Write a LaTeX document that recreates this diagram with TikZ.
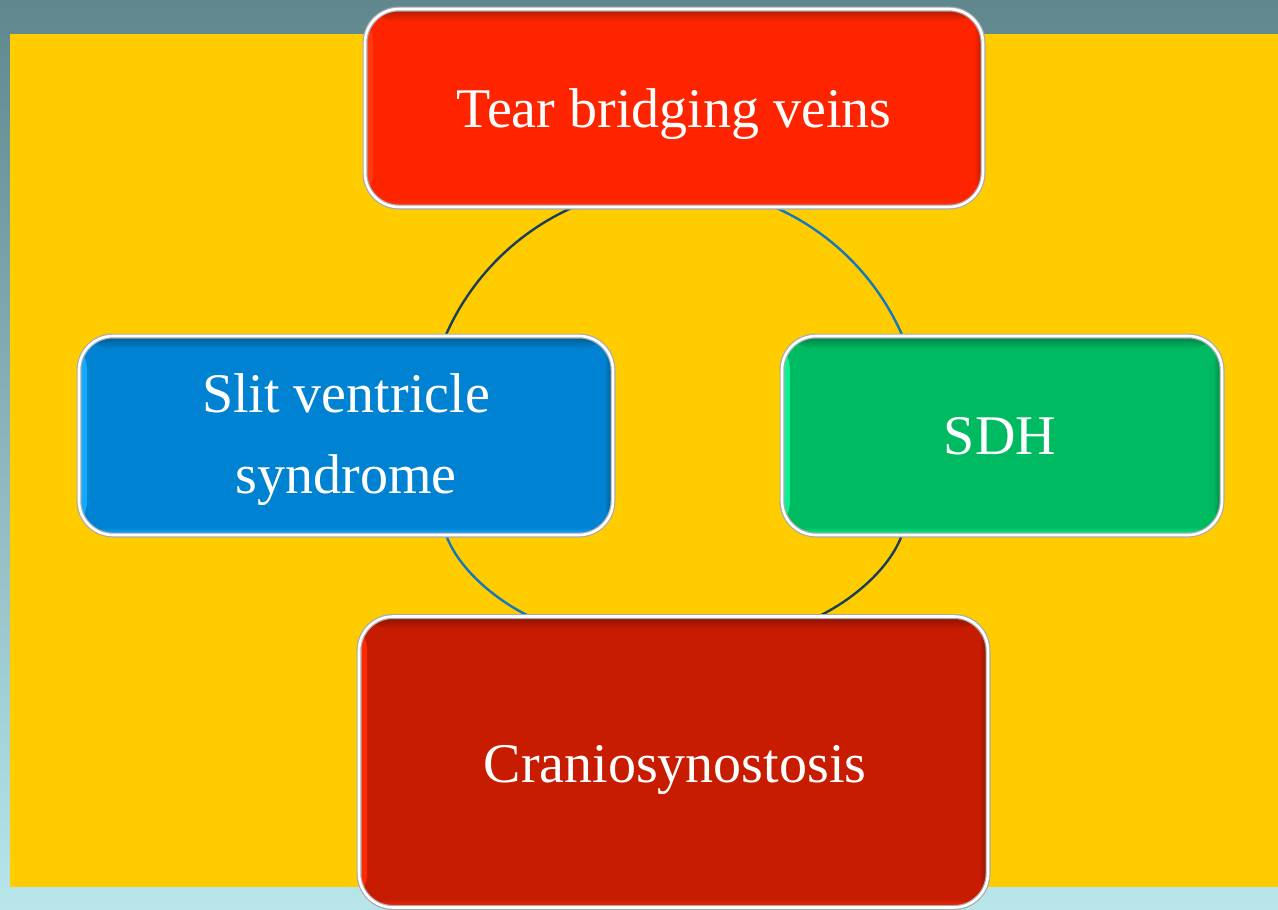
\documentclass[tikz,border=0pt]{standalone}
\usepackage{fontspec}
\setmainfont{Liberation Serif}
\definecolor{bgtop}{HTML}{5F878D}
\definecolor{bgbot}{HTML}{B8E6EA}
\definecolor{yel}{HTML}{FFCC00}
\definecolor{redA}{HTML}{FF2400}
\definecolor{redAdark}{HTML}{B01A00}
\definecolor{redAlight}{HTML}{FF3A10}
\definecolor{blueB}{HTML}{0082D2}
\definecolor{blueBdark}{HTML}{005A90}
\definecolor{blueBlight}{HTML}{10AAFF}
\definecolor{greenC}{HTML}{00BA62}
\definecolor{greenCdark}{HTML}{007E42}
\definecolor{greenClight}{HTML}{10F090}
\definecolor{redD}{HTML}{C81C00}
\definecolor{redDdark}{HTML}{8A1200}
\definecolor{redDlight}{HTML}{FF2A00}
\definecolor{arcdark}{HTML}{1A3F5C}
\definecolor{arcblue}{HTML}{1478BE}
\definecolor{rim}{HTML}{A8AAAE}
\tikzset{
  box/.style n args={3}{rectangle, rounded corners=34pt, inner sep=0pt,
    fill=#1, draw=rim, double=white, double distance=2.6pt, line width=1.2pt,
    path picture={
      \shade[left color=#3, right color=#1] (path picture bounding box.south west) rectangle ([xshift=8pt]path picture bounding box.north west);
      \shade[left color=#1, right color=#2] ([xshift=-9pt]path picture bounding box.south east) rectangle (path picture bounding box.north east);
      \shade[top color=#1, bottom color=#3] ([yshift=8pt]path picture bounding box.south west) rectangle (path picture bounding box.south east);
      \shade[top color=#2, bottom color=#1] (path picture bounding box.north west) rectangle ([yshift=-13pt]path picture bounding box.north east);
    }},
  lbl/.style={text=white, font=\fontsize{56}{81}\selectfont, inner sep=0pt, anchor=base},
  arcd/.style={draw=arcdark, line width=2.4pt},
  arcb/.style={draw=arcblue, line width=2.4pt}
}
\begin{document}
\begin{tikzpicture}[x=1pt,y=-1pt]
\useasboundingbox (0,0) rectangle (1278,910);
\shade[top color=bgtop, bottom color=bgbot] (0,0) rectangle (1278,910);
\fill[yel] (10,34) rectangle (1278,887);
% ring
\coordinate (c) at (674,435);
\coordinate (bl1) at (540,621);
\coordinate (br1) at (808,621);
\draw[arcd] (c) ++(180:249) arc[start angle=180, end angle=270, radius=249];
\draw[arcb] (c) ++(270:249) arc[start angle=270, end angle=360, radius=249];
\draw[arcd] (c) ++(0:249) arc[start angle=0, end angle=24.2, radius=249]
  .. controls (887,573) and (845,606) .. (br1);
\draw[arcb] (c) ++(180:249) arc[start angle=180, end angle=155.8, radius=249]
  .. controls (461,573) and (503,606) .. (bl1);
% boxes
\node[box={redA}{redAdark}{redAlight}, minimum width=618pt, minimum height=198pt] (top) at (674,108) {};
\node[box={blueB}{blueBdark}{blueBlight}, minimum width=534pt, minimum height=199pt] (left) at (346,435.5) {};
\node[box={greenC}{greenCdark}{greenClight}, minimum width=440pt, minimum height=199pt] (right) at (1002,435.5) {};
\node[box={redD}{redDdark}{redDlight}, minimum width=629pt, minimum height=291pt] (bottom) at (673.5,762) {};
% labels
\node[lbl] (ttop) at ([yshift=-19pt]top.center) {Tear bridging veins};
\node[lbl] (tleft1) at ([yshift=23.5pt]left.center) {Slit ventricle};
\node[lbl] (tleft2) at ([yshift=-57.5pt]left.center) {syndrome};
\node[lbl] (tright) at ([xshift=-2pt,yshift=-18.5pt]right.center) {SDH};
\node[lbl] (tbottom) at ([xshift=1.5pt,yshift=-20pt]bottom.center) {Craniosynostosis};
\end{tikzpicture}
\end{document}
